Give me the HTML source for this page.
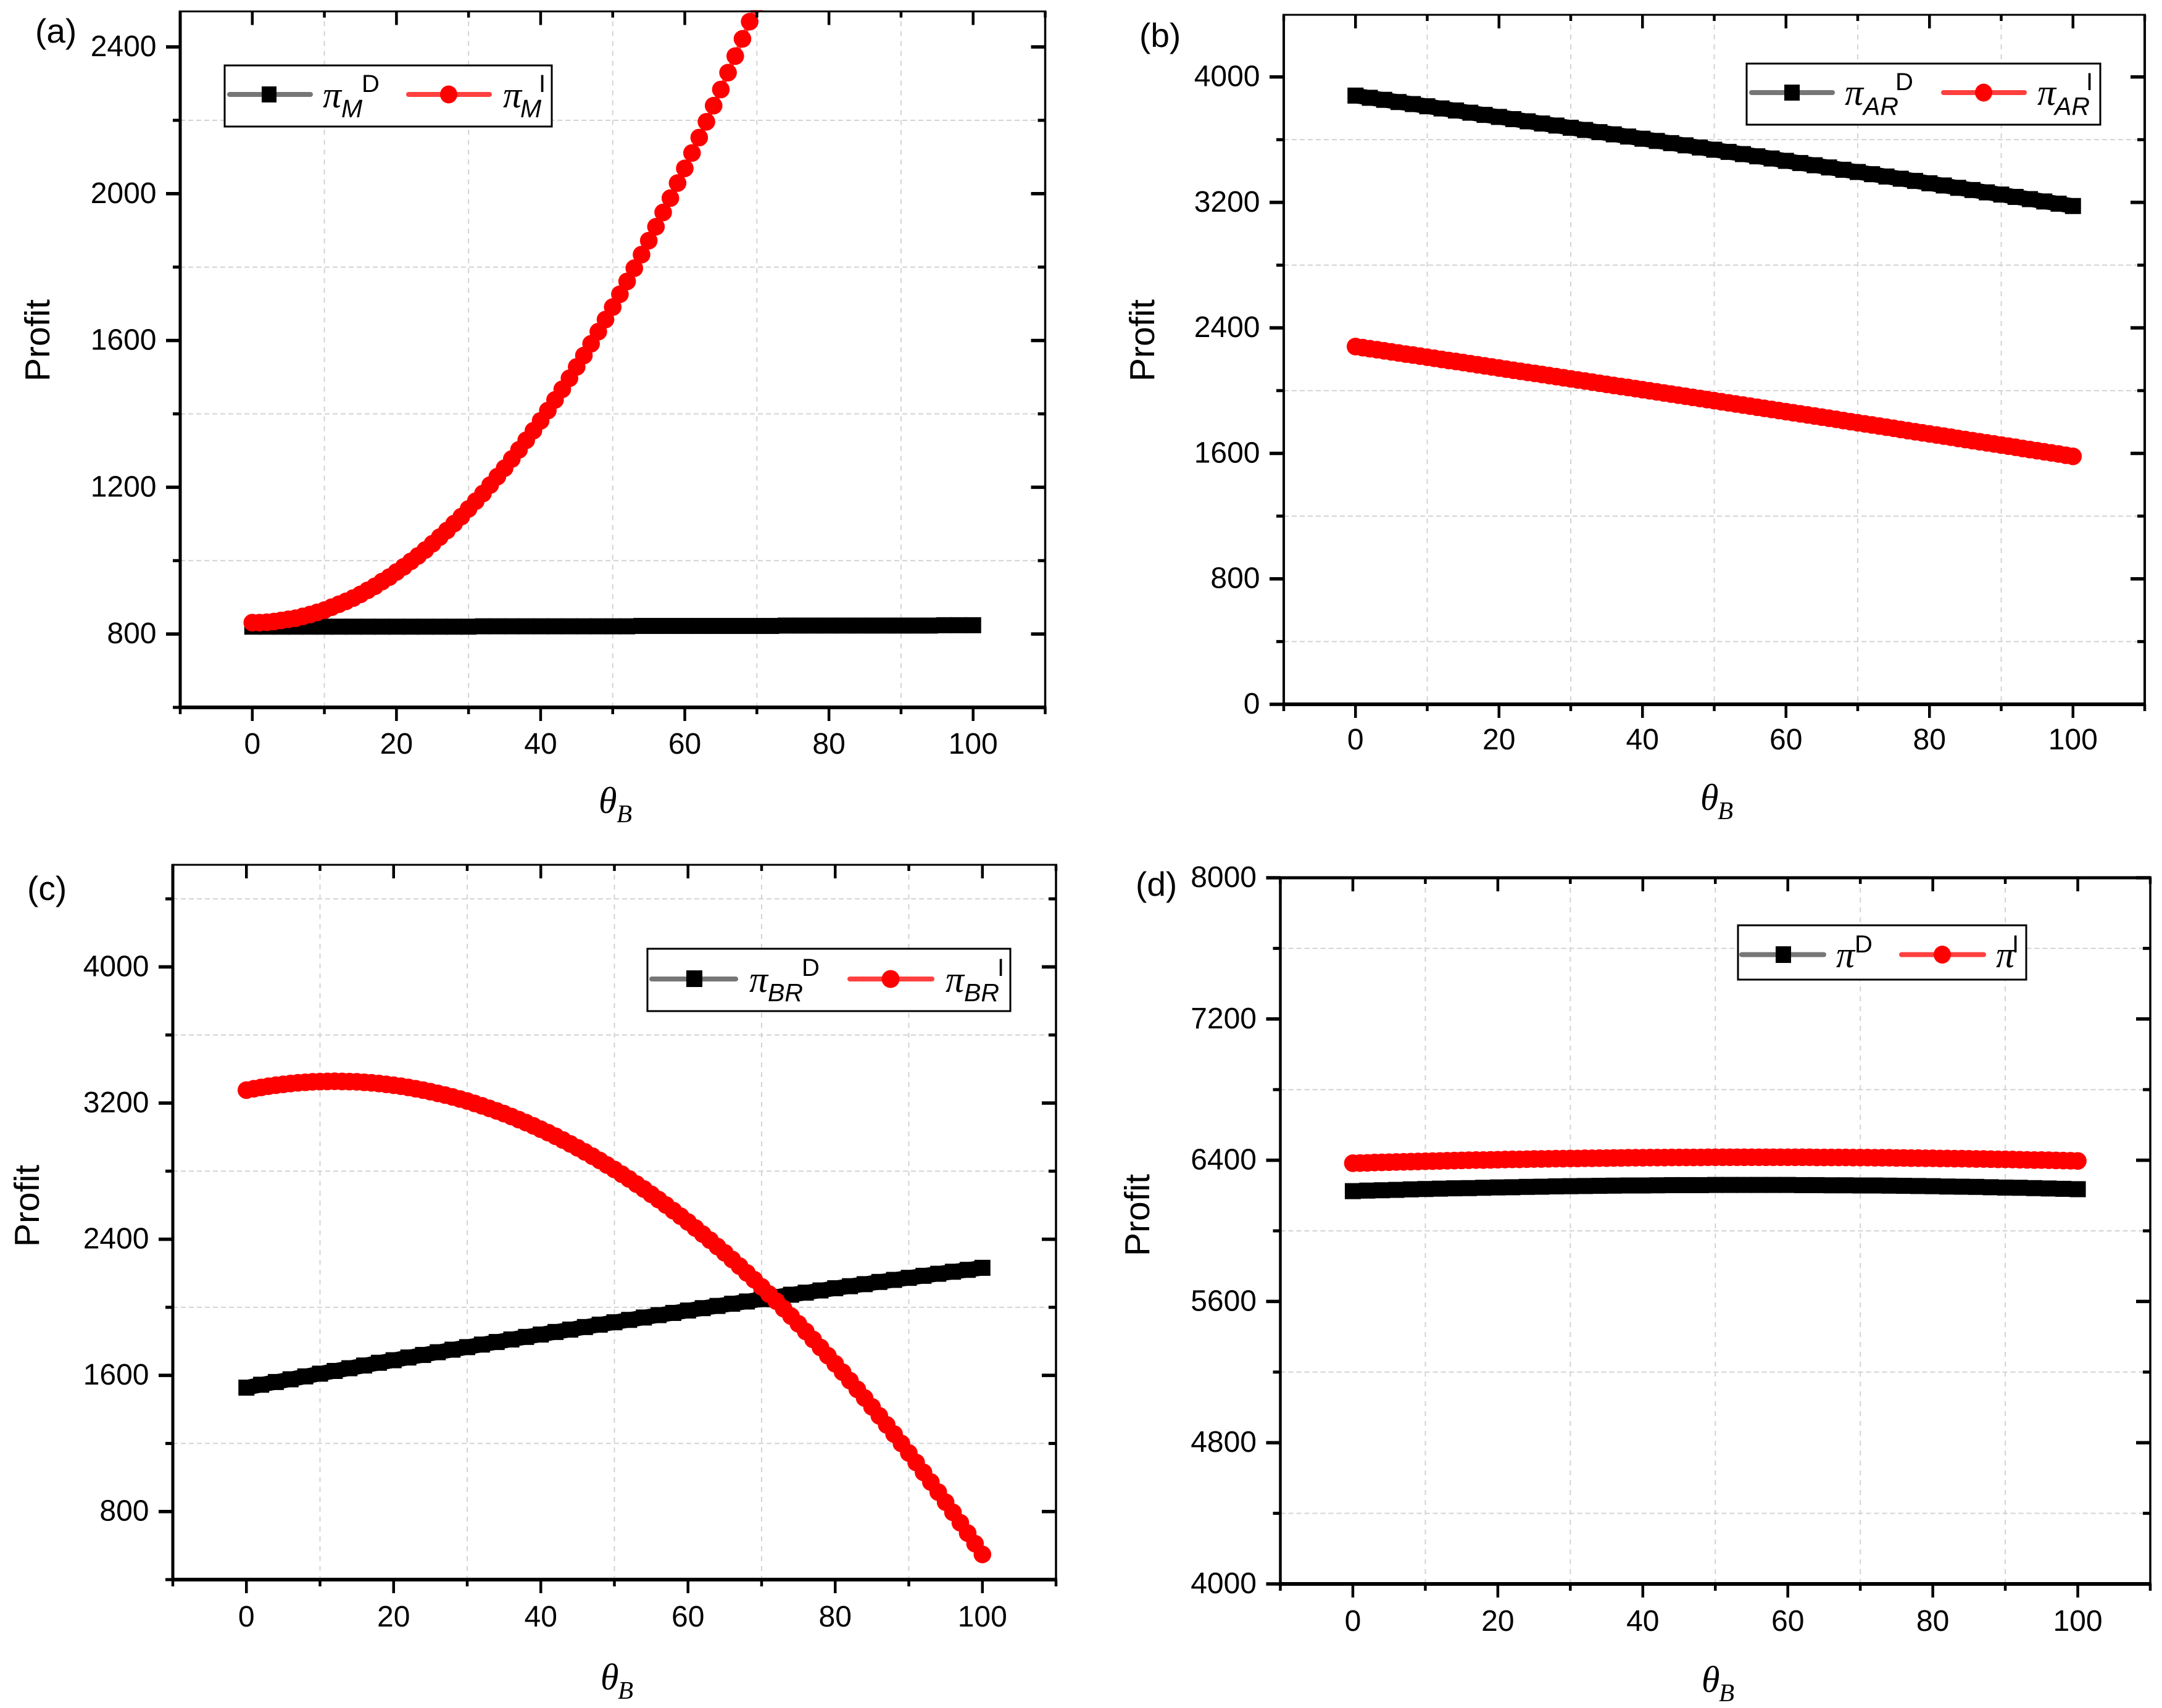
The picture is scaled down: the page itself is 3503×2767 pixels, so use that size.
<!DOCTYPE html>
<html lang="en">
<head>
<meta charset="utf-8">
<title>Profit versus theta B, four panels</title>
<style>
html,body{margin:0;padding:0;background:#fff;width:3503px;height:2767px;overflow:hidden}
svg{display:block}
.tick{font-family:"Liberation Sans",sans-serif;font-size:48px;fill:#000}
.prof{font-family:"Liberation Sans",sans-serif;font-size:57px;fill:#000}
.plab{font-family:"Liberation Sans",sans-serif;font-size:55px;fill:#000}
.gr{font-family:"Liberation Serif",serif;font-style:italic;font-size:60px;fill:#000}
.sub{font-family:"Liberation Sans",sans-serif;font-style:italic;font-size:41px;fill:#000}
.sup{font-family:"Liberation Sans",sans-serif;font-size:40px;fill:#000}
.thsub{font-family:"Liberation Serif",serif;font-style:italic;font-size:41px;fill:#000}
</style>
</head>
<body>
<svg id="figure" xmlns="http://www.w3.org/2000/svg" width="3503" height="2767" viewBox="0 0 3503 2767">
<rect x="0" y="0" width="3503" height="2767" fill="#fff"/>
<g id="panel-a"></g>
<g id="panel-b"></g>
<g id="panel-c"></g>
<g id="panel-d"></g>

<text class="plab" x="57" y="69">(a)</text>
<text class="plab" x="1846" y="76">(b)</text>
<text class="plab" x="44" y="1458">(c)</text>
<text class="plab" x="1840" y="1451">(d)</text>

<text class="prof" transform="translate(80,618) rotate(-90)">Profit</text>
<text class="prof" transform="translate(1870,618) rotate(-90)">Profit</text>
<text class="prof" transform="translate(63,2020) rotate(-90)">Profit</text>
<text class="prof" transform="translate(1862,2035) rotate(-90)">Profit</text>

<g><text class="gr" x="970" y="1317">θ</text><text class="thsub" x="999" y="1332">B</text></g>
<g><text class="gr" x="2755" y="1312">θ</text><text class="thsub" x="2783" y="1327">B</text></g>
<g><text class="gr" x="973" y="2737">θ</text><text class="thsub" x="1001" y="2752">B</text></g>
<g><text class="gr" x="2757" y="2741">θ</text><text class="thsub" x="2785" y="2756">B</text></g>

<g id="legends-layer">
<g>
<rect x="364" y="106" width="530" height="99" fill="#fff" stroke="#000" stroke-width="3"/>
<line x1="372" y1="153" x2="503" y2="153" stroke="#767676" stroke-width="8" stroke-linecap="round"/>
<rect x="424" y="140" width="24" height="26" fill="#000"/>
<text class="gr" x="523" y="174">π</text><text class="sub" x="553" y="190">M</text><text class="sup" x="586" y="149">D</text>
<line x1="662" y1="153" x2="793" y2="153" stroke="#ff4040" stroke-width="8" stroke-linecap="round"/>
<ellipse cx="727" cy="153" rx="14" ry="14.5" fill="#f00"/>
<text class="gr" x="815" y="174">π</text><text class="sub" x="843" y="190">M</text><text class="sup" x="873" y="149">I</text>
</g>

<g>
<rect x="2830" y="103" width="573" height="99" fill="#fff" stroke="#000" stroke-width="3"/>
<line x1="2838" y1="150" x2="2969" y2="150" stroke="#767676" stroke-width="8" stroke-linecap="round"/>
<rect x="2891" y="137" width="25" height="26" fill="#000"/>
<text class="gr" x="2989" y="170">π</text><text class="sub" x="3019" y="186">AR</text><text class="sup" x="3071" y="146">D</text>
<line x1="3149" y1="150" x2="3280" y2="150" stroke="#ff4040" stroke-width="8" stroke-linecap="round"/>
<ellipse cx="3214" cy="150" rx="14" ry="14.5" fill="#f00"/>
<text class="gr" x="3301" y="170">π</text><text class="sub" x="3329" y="186">AR</text><text class="sup" x="3380" y="146">I</text>
</g>

<g>
<rect x="1049" y="1537" width="588" height="101" fill="#fff" stroke="#000" stroke-width="3"/>
<line x1="1056" y1="1586" x2="1192" y2="1586" stroke="#767676" stroke-width="8" stroke-linecap="round"/>
<rect x="1112" y="1572" width="26" height="27" fill="#000"/>
<text class="gr" x="1214" y="1607">π</text><text class="sub" x="1244" y="1622">BR</text><text class="sup" x="1299" y="1581">D</text>
<line x1="1377" y1="1586" x2="1510" y2="1586" stroke="#ff4040" stroke-width="8" stroke-linecap="round"/>
<ellipse cx="1443" cy="1586" rx="14.5" ry="14.5" fill="#f00"/>
<text class="gr" x="1532" y="1607">π</text><text class="sub" x="1562" y="1622">BR</text><text class="sup" x="1616" y="1581">I</text>
</g>

<g>
<rect x="2816" y="1499" width="467" height="88" fill="#fff" stroke="#000" stroke-width="3"/>
<line x1="2822" y1="1546.5" x2="2955" y2="1546.5" stroke="#767676" stroke-width="8" stroke-linecap="round"/>
<rect x="2877" y="1533" width="25" height="27" fill="#000"/>
<text class="gr" x="2975" y="1567">π</text><text class="sup" x="3005" y="1543">D</text>
<line x1="3081" y1="1546.5" x2="3214" y2="1546.5" stroke="#ff4040" stroke-width="8" stroke-linecap="round"/>
<ellipse cx="3147" cy="1546.5" rx="14" ry="14.5" fill="#f00"/>
<text class="gr" x="3234" y="1567">π</text><text class="sup" x="3260" y="1543">I</text>
</g>
</g>
</svg>

<script>
// x-axis categories
const thetaEven = [0,2,4,6,8,10,12,14,16,18,20,22,24,26,28,30,32,34,36,38,40,42,44,46,48,50,52,54,56,58,60,62,64,66,68,70,72,74,76,78,80,82,84,86,88,90,92,94,96,98,100];
const thetaAll = [0,1,2,3,4,5,6,7,8,9,10,11,12,13,14,15,16,17,18,19,20,21,22,23,24,25,26,27,28,29,30,31,32,33,34,35,36,37,38,39,40,41,42,43,44,45,46,47,48,49,50,51,52,53,54,55,56,57,58,59,60,61,62,63,64,65,66,67,68,69,70,71,72,73,74,75,76,77,78,79,80,81,82,83,84,85,86,87,88,89,90,91,92,93,94,95,96,97,98,99,100];

// tick values
const xMajorTicks = [0,20,40,60,80,100];
const xMinorTicks = [-10,10,30,50,70,90,110];
const yMajorA = [800,1200,1600,2000,2400];
const yMinorA = [600,1000,1400,1800,2200];
const yMajorB = [0,800,1600,2400,3200,4000];
const yMinorB = [400,1200,2000,2800,3600];
const yMajorC = [800,1600,2400,3200,4000];
const yMinorC = [400,1200,2000,2800,3600,4400];
const yMajorD = [4000,4800,5600,6400,7200,8000];
const yMinorD = [4400,5200,6000,6800,7600];

// series values: D series sampled at thetaEven, I series at thetaAll
const profitMD = [820,820,820,820,820,820,820,820,820,820,820,820,820,820,820,820,821,821,821,821,821,821,821,821,821,821,821,822,822,822,822,822,822,822,822,822,822,823,823,823,823,823,823,823,823,823,823,823,824,824,824];
const profitMI = [831,831,832,834,837,840,843,848,853,859,865,873,881,889,898,908,919,930,943,955,969,983,998,1013,1029,1046,1064,1082,1101,1120,1141,1162,1183,1206,1229,1252,1277,1302,1328,1354,1381,1409,1438,1467,1497,1528,1559,1591,1624,1657,1691,1726,1761,1797,1834,1872,1910,1949,1988,2029,2069,2111,2153,2196,2240,2284,2330,2375,2422,2469,2517,2565,2614];
const profitARD = [3881,3867,3854,3840,3827,3813,3799,3786,3772,3758,3745,3731,3717,3703,3690,3676,3662,3648,3634,3620,3606,3592,3578,3564,3550,3536,3522,3508,3494,3480,3465,3451,3437,3423,3408,3394,3380,3365,3351,3337,3322,3308,3293,3279,3264,3250,3235,3221,3206,3192,3177];
const profitARI = [2281,2274,2267,2261,2254,2247,2240,2233,2227,2220,2213,2206,2199,2192,2186,2179,2172,2165,2158,2151,2144,2137,2130,2123,2116,2110,2103,2096,2089,2082,2075,2068,2061,2054,2047,2040,2033,2026,2020,2013,2006,1999,1992,1985,1978,1971,1964,1957,1950,1943,1936,1929,1922,1915,1908,1901,1894,1887,1880,1873,1866,1859,1852,1845,1838,1831,1824,1817,1809,1802,1795,1788,1781,1774,1767,1760,1752,1745,1738,1731,1724,1717,1710,1703,1695,1688,1681,1674,1667,1660,1653,1646,1639,1631,1624,1617,1610,1603,1596,1588,1581];
const profitBRD = [1528,1545,1561,1577,1594,1610,1626,1642,1658,1674,1689,1705,1720,1736,1751,1766,1781,1796,1811,1826,1840,1855,1869,1884,1898,1912,1926,1940,1954,1967,1981,1995,2008,2021,2034,2048,2061,2074,2086,2099,2112,2124,2136,2149,2161,2173,2185,2197,2209,2220,2232];
const profitBRI = [3276,3284,3292,3299,3305,3310,3315,3319,3322,3325,3326,3327,3328,3327,3326,3325,3322,3319,3315,3310,3305,3299,3292,3284,3276,3267,3257,3247,3236,3224,3212,3198,3184,3169,3154,3138,3121,3103,3085,3066,3046,3026,3005,2983,2960,2937,2913,2888,2863,2836,2810,2782,2754,2724,2695,2664,2633,2601,2568,2535,2501,2466,2430,2394,2357,2320,2281,2242,2202,2162,2120,2078,2036,1992,1948,1903,1858,1811,1764,1716,1668,1619,1569,1518,1467,1415,1362,1309,1255,1200,1144,1088,1030,973,914,855,795,734,673,611,548];
const profitTotalD = [6225,6228,6230,6232,6235,6237,6239,6241,6242,6244,6246,6247,6249,6250,6252,6253,6254,6255,6256,6257,6257,6258,6259,6259,6259,6260,6260,6260,6260,6260,6260,6259,6259,6258,6258,6257,6257,6256,6255,6254,6253,6251,6250,6249,6247,6245,6244,6242,6240,6238,6236];
const profitTotalI = [6383,6384,6385,6387,6388,6389,6390,6391,6392,6393,6394,6395,6396,6397,6398,6399,6400,6401,6401,6402,6403,6404,6405,6405,6406,6407,6407,6408,6409,6409,6410,6410,6411,6411,6412,6412,6413,6413,6414,6414,6414,6415,6415,6415,6416,6416,6416,6416,6416,6417,6417,6417,6417,6417,6417,6417,6417,6417,6417,6417,6417,6417,6417,6417,6416,6416,6416,6416,6416,6415,6415,6415,6414,6414,6414,6413,6413,6412,6412,6411,6411,6410,6410,6409,6409,6408,6407,6407,6406,6405,6405,6404,6403,6402,6401,6401,6400,6399,6398,6397,6396];

const NS = 'http://www.w3.org/2000/svg';
function make(parent, tag, attrs) {
  const node = document.createElementNS(NS, tag);
  for (const k in attrs) node.setAttribute(k, attrs[k]);
  parent.appendChild(node);
  return node;
}
const GRID = '#d3d3d3';

function drawPanel(cfg) {
  const root = document.getElementById(cfg.id);
  const xScale = v => cfg.left + (v - (-10)) / 120 * (cfg.right - cfg.left);
  const yScale = v => cfg.bottom - (v - cfg.yMin) / (cfg.yMax - cfg.yMin) * (cfg.bottom - cfg.scaleTop);

  // grid
  xMinorTicks.filter(v => v > 0 && v < 100).forEach(v => {
    const g = make(root, 'line', {x1: xScale(v), x2: xScale(v), y1: cfg.top, y2: cfg.bottom, stroke: GRID, 'stroke-width': 2, 'stroke-dasharray': '8 8'});
    
    
  });
  cfg.yMinor.filter(v => v > cfg.yMin && v < cfg.yMax).forEach(v => {
    const g = make(root, 'line', {x1: cfg.left, x2: cfg.right, y1: yScale(v), y2: yScale(v), stroke: GRID, 'stroke-width': 2, 'stroke-dasharray': '8 5'});
    
    
  });

  // series, clipped to the plot area
  const clip = make(root, 'clipPath', {id: cfg.id + '-clip'});
  make(clip, 'rect', {x: cfg.left, y: cfg.top - 2, width: cfg.right - cfg.left, height: cfg.bottom - cfg.top + 2});
  const plot = make(root, 'g', {'clip-path': 'url(#' + cfg.id + '-clip)'});
  
  

  const dealerLine = make(plot, 'polyline', {fill: 'none', stroke: '#000', 'stroke-width': 25,
    points: cfg.dealer.map((v, i) => xScale(thetaEven[i]) + ',' + yScale(v)).join(' ')});
  
  
  cfg.dealer.forEach((v, i) => {
    const m = make(plot, 'rect', {x: xScale(thetaEven[i]) - 13, y: yScale(v) - 13, width: 26, height: 26, fill: '#000'});
    
    
  });

  const integratedLine = make(plot, 'polyline', {fill: 'none', stroke: '#ff4040', 'stroke-width': 8,
    points: cfg.integrated.map((v, i) => xScale(thetaAll[i]) + ',' + yScale(v)).join(' ')});
  
  
  cfg.integrated.forEach((v, i) => {
    const m = make(plot, 'circle', {cx: xScale(thetaAll[i]), cy: yScale(v), r: 14.3, fill: '#f00'});
    
    
  });

  // axis frame
  const frame = [
    ['left-axis',   cfg.left,  cfg.top - 1,  cfg.left,  cfg.bottom + 3, cfg.wLeft],
    ['right-axis',  cfg.right, cfg.top - 1,  cfg.right, cfg.bottom + 3, cfg.wRight],
    ['top-axis',    cfg.left - 2, cfg.top, cfg.right + 2, cfg.top, cfg.wTop],
    ['bottom-axis', cfg.left - 2, cfg.bottom, cfg.right + 2, cfg.bottom, cfg.wBottom]
  ];
  frame.forEach(f => {
    const l = make(root, 'line', {x1: f[1], y1: f[2], x2: f[3], y2: f[4], stroke: '#000', 'stroke-width': f[5]});
    
    
  });

  // x ticks
  xMajorTicks.forEach(v => {
    const b = make(root, 'line', {x1: xScale(v), x2: xScale(v), y1: cfg.bottom, y2: cfg.bottom + 22, stroke: '#000', 'stroke-width': 4.5});
    
    
    const t = make(root, 'line', {x1: xScale(v), x2: xScale(v), y1: cfg.top, y2: cfg.top + 22, stroke: '#000', 'stroke-width': 4.5});
    
    
    const lab = make(root, 'text', {x: xScale(v), y: cfg.bottom + cfg.xLabelDy, 'text-anchor': 'middle', class: 'tick'});
    
    
    lab.textContent = String(v);
  });
  xMinorTicks.forEach(v => {
    const b = make(root, 'line', {x1: xScale(v), x2: xScale(v), y1: cfg.bottom, y2: cfg.bottom + 11, stroke: '#000', 'stroke-width': 4.5});
    
    
    const t = make(root, 'line', {x1: xScale(v), x2: xScale(v), y1: cfg.top, y2: cfg.top + 10, stroke: '#000', 'stroke-width': 4.5});
    
    
  });

  // y ticks
  cfg.yMajor.forEach(v => {
    const l = make(root, 'line', {x1: cfg.left - 23, x2: cfg.left, y1: yScale(v), y2: yScale(v), stroke: '#000', 'stroke-width': 5.5});
    
    
    const r = make(root, 'line', {x1: cfg.right - 23, x2: cfg.right, y1: yScale(v), y2: yScale(v), stroke: '#000', 'stroke-width': 5.5});
    
    
    const lab = make(root, 'text', {x: cfg.left - 38.5, y: yScale(v) + 15, 'text-anchor': 'end', class: 'tick'});
    
    
    lab.textContent = String(v);
  });
  cfg.yMinor.forEach(v => {
    const l = make(root, 'line', {x1: cfg.left - 12, x2: cfg.left, y1: yScale(v), y2: yScale(v), stroke: '#000', 'stroke-width': 5});
    
    
    const r = make(root, 'line', {x1: cfg.right - 12, x2: cfg.right, y1: yScale(v), y2: yScale(v), stroke: '#000', 'stroke-width': 5});
    
    
  });
}

drawPanel({id:'panel-a', left:292, right:1693.5, top:18.5, scaleTop:16.6, bottom:1146, yMin:600, yMax:2500, yMajor:yMajorA, yMinor:yMinorA, dealer:profitMD, integrated:profitMI, wLeft:5, wRight:3.5, wTop:3, wBottom:6, xLabelDy:75});
drawPanel({id:'panel-b', left:2080, right:3475, top:24, scaleTop:23, bottom:1141, yMin:0, yMax:4400, yMajor:yMajorB, yMinor:yMinorB, dealer:profitARD, integrated:profitARI, wLeft:4, wRight:4, wTop:3, wBottom:6, xLabelDy:73});
drawPanel({id:'panel-c', left:280, right:1711, top:1401, scaleTop:1401, bottom:2559, yMin:400, yMax:4600, yMajor:yMajorC, yMinor:yMinorC, dealer:profitBRD, integrated:profitBRI, wLeft:5, wRight:3.5, wTop:3, wBottom:6, xLabelDy:76});
drawPanel({id:'panel-d', left:2074.5, right:3484, top:1422, scaleTop:1422, bottom:2566, yMin:4000, yMax:8000, yMajor:yMajorD, yMinor:yMinorD, dealer:profitTotalD, integrated:profitTotalI, wLeft:4.5, wRight:3.5, wTop:5, wBottom:6, xLabelDy:76});
</script>
</body>
</html>
